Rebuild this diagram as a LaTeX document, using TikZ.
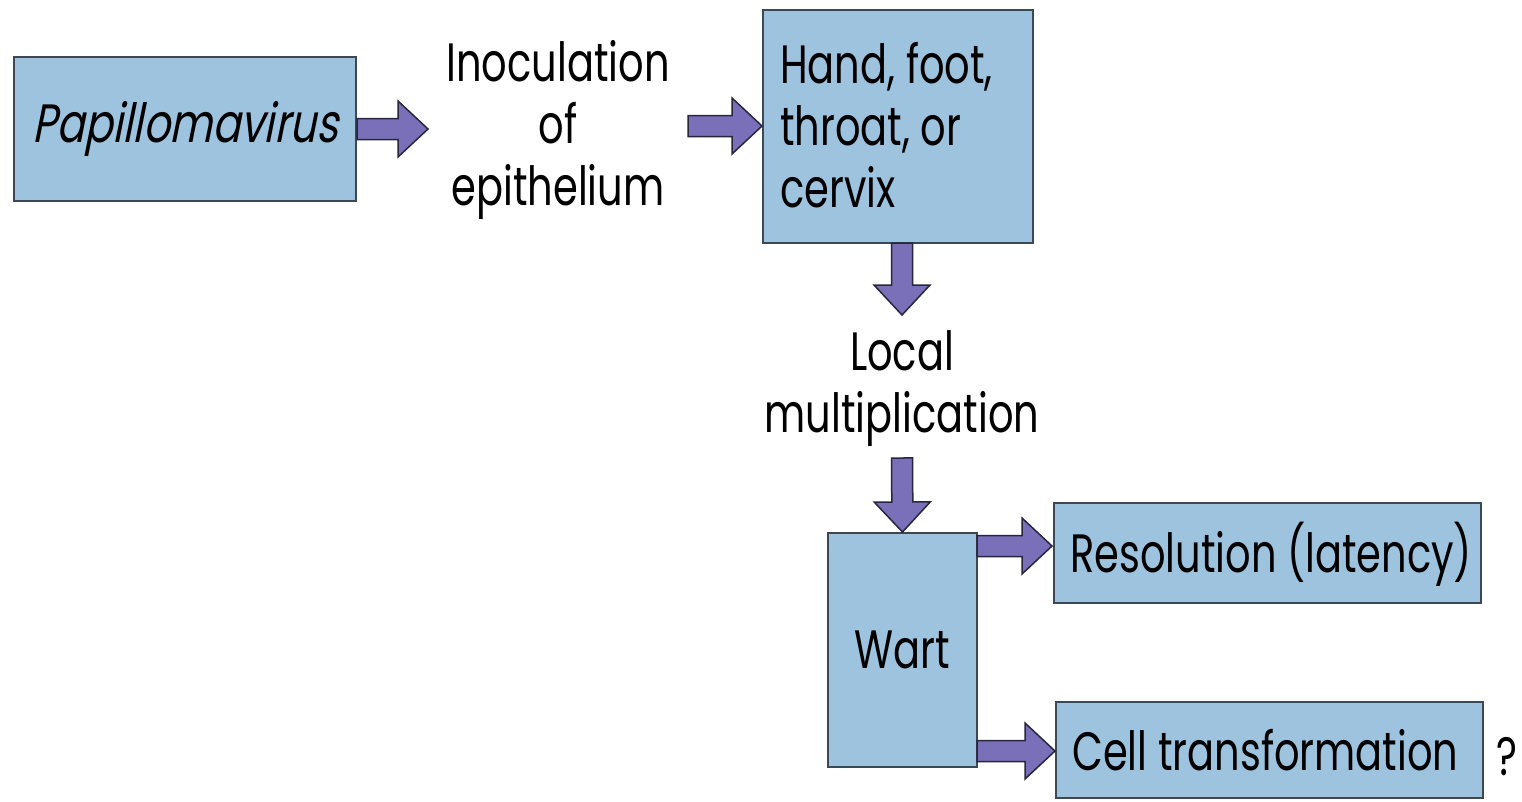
\documentclass[tikz,border=0pt]{standalone}
\usepackage{fontspec}
\setmainfont{Poppins}[FakeStretch=0.74]
\newfontfamily\slantfont{Poppins}[FakeStretch=0.77,FakeSlant=0.2]
\usetikzlibrary{calc}
\definecolor{boxfill}{RGB}{158,195,223}
\definecolor{boxline}{RGB}{62,72,84}
\definecolor{arrfill}{RGB}{122,112,186}
\definecolor{arrline}{RGB}{40,38,60}
\tikzset{
  box/.style={draw=boxline, fill=boxfill, line width=2pt, inner sep=0pt},
  txt/.style={font=\fontsize{54}{62}\selectfont, inner sep=0pt, text=black},
  barrow/.style={draw=arrline, fill=arrfill, line width=1.5pt, line join=miter,
    to path={
      (\tikztotarget) coordinate (bT)
      ($(bT)!30pt!(\tikztostart)$) coordinate (bB)
      ($(\tikztostart)!10.5pt!90:(bT)$) -- ($(bB)!10.5pt!-90:(\tikztostart)$)
      -- ($(bB)!28pt!-90:(\tikztostart)$) -- (bT)
      -- ($(bB)!28pt!90:(\tikztostart)$) -- ($(bB)!10.5pt!90:(\tikztostart)$)
      -- ($(\tikztostart)!10.5pt!-90:(bT)$) -- cycle}}
}
\begin{document}
\begin{tikzpicture}[x=1pt,y=-1pt]
\useasboundingbox[fill=white] (0,0) rectangle (1522,801);
% boxes
\node[box, minimum width=342pt, minimum height=144pt, txt] (pap) at (185,129) {\slantfont Papillomavirus};
\node[box, minimum width=270pt, minimum height=233pt] (hand) at (898,126.5) {};
\node[box, minimum width=149pt, minimum height=234pt, txt] (wart) at (902.5,650) {Wart};
\node[box, minimum width=427pt, minimum height=100pt] (res) at (1267.5,553) {};
\node[box, minimum width=427pt, minimum height=96pt] (cell) at (1269.5,750) {};
% texts
\node[txt, align=center, anchor=north] (inoc) at (558,40) {Inoculation\\of\\epithelium};
\node[txt, align=left, anchor=north west] (handtxt) at (780,42) {Hand, foot,\\throat, or\\cervix};
\node[txt, align=center, anchor=north] (local) at (902,330) {Local\\multiplication};
\node[txt, anchor=base west] (restxt) at (1070,572) {Resolution (latency)};
\node[txt, anchor=base west] (celltxt) at (1072,770) {Cell transformation};
\node[txt, anchor=base] (q) at (1507,775) {?};
% connector end points
\coordinate (a1e) at (428,129);
\coordinate (a2s) at (688,126);
\coordinate (a3s) at (902,243);
\coordinate (a3e) at (902,315);
\coordinate (a4s) at (902,458);
\coordinate (a5s) at (977,546);
\coordinate (a5e) at (1052,546);
\coordinate (a6s) at (977,751);
% block arrows
\draw[barrow] (pap.east) to (a1e);
\draw[barrow] (a2s) to (hand.west |- a2s);
\draw[barrow] (a3s) to (a3e);
\draw[barrow] (a4s) to (wart.north);
\draw[barrow] (a5s) to (a5e);
\draw[barrow] (a6s) to (cell.west |- a6s);
\end{tikzpicture}
\end{document}
